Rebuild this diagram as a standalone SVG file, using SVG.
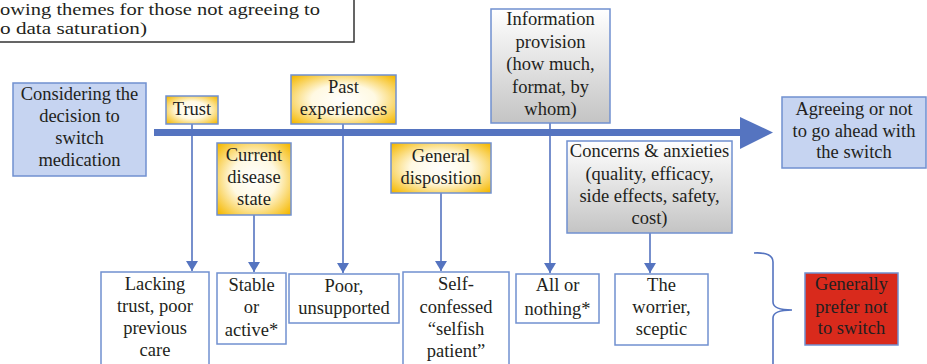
<svg xmlns="http://www.w3.org/2000/svg" width="927" height="364" viewBox="0 0 927 364" font-family="'Liberation Serif', 'Times New Roman', 'DejaVu Serif', serif">
<defs>
<radialGradient id="gold" cx="50%" cy="50%" r="68%">
<stop offset="0" stop-color="#ffffff"/>
<stop offset="0.45" stop-color="#fff9e2"/>
<stop offset="1" stop-color="#f5b800"/>
</radialGradient>
<linearGradient id="grey" x1="0" y1="0" x2="0" y2="1">
<stop offset="0" stop-color="#ffffff"/>
<stop offset="1" stop-color="#c4c4c4"/>
</linearGradient>
<marker id="ah" viewBox="0 0 10 12" refX="10" refY="6" markerWidth="10" markerHeight="12" markerUnits="userSpaceOnUse" orient="auto">
<path d="M0,0 L10,6 L0,12 z" fill="#5574c0"/>
</marker>
</defs>
<style>
text{font-family:'Liberation Serif','Times New Roman','DejaVu Serif',serif;font-size:18.5px;fill:#231f20;text-anchor:middle}
.note{text-anchor:start;font-size:16.5px}
.blue{fill:#c6d4f1;stroke:#7090d0;stroke-width:1.5}
.gold{fill:url(#gold);stroke:#7090d0;stroke-width:1.5}
.grey{fill:url(#grey);stroke:#7090d0;stroke-width:1.5}
.plain{fill:#ffffff;stroke:#7090d0;stroke-width:1.5}
.red{fill:#d92a1c;stroke:#7090d0;stroke-width:1.5}
.conn{stroke:#5574c0;stroke-width:1.6;fill:none}
</style>

<g id="note">
<rect x="-10" y="-10" width="364" height="52" fill="#ffffff" stroke="#333333" stroke-width="1.5"/>
<text class="note" x="0" y="15" textLength="320" lengthAdjust="spacingAndGlyphs">owing themes for those not agreeing to</text>
<text class="note" x="0" y="34" textLength="147" lengthAdjust="spacingAndGlyphs">o data saturation)</text>
</g>

<g id="connectors">
<rect x="154" y="129" width="587" height="7" fill="#5574c0"/>
<polygon points="740,117 773,132.5 740,149" fill="#5574c0"/>
<line class="conn" x1="192" y1="124" x2="192" y2="271" marker-end="url(#ah)"/>
<line class="conn" x1="254" y1="215" x2="254" y2="272" marker-end="url(#ah)"/>
<line class="conn" x1="343" y1="124" x2="343" y2="273" marker-end="url(#ah)"/>
<line class="conn" x1="441" y1="193" x2="441" y2="271" marker-end="url(#ah)"/>
<line class="conn" x1="550" y1="123" x2="550" y2="273" marker-end="url(#ah)"/>
<line class="conn" x1="650" y1="233" x2="650" y2="273" marker-end="url(#ah)"/>
<path class="conn" d="M754,253 Q773,252 773,262 L773,302 Q773,310 792,310 Q773,310 773,318 L773,370"/>
</g>

<g id="start">
<rect class="blue" x="13" y="83" width="133" height="93"/>
<text x="79.5" y="100">Considering the</text>
<text x="79.5" y="122">decision to</text>
<text x="79.5" y="144">switch</text>
<text x="79.5" y="166">medication</text>
</g>

<g id="trust">
<rect class="gold" x="166" y="96" width="52" height="28"/>
<text x="192" y="115">Trust</text>
</g>

<g id="current">
<rect class="gold" x="217" y="143" width="74" height="72"/>
<text x="254" y="161">Current</text>
<text x="254" y="183">disease</text>
<text x="254" y="205">state</text>
</g>

<g id="past">
<rect class="gold" x="291" y="75" width="105" height="49"/>
<text x="343.5" y="93">Past</text>
<text x="343.5" y="115">experiences</text>
</g>

<g id="general">
<rect class="gold" x="391" y="143" width="100" height="50"/>
<text x="441" y="162">General</text>
<text x="441" y="184">disposition</text>
</g>

<g id="info">
<rect class="grey" x="491" y="9" width="119" height="114"/>
<text x="550.5" y="25">Information</text>
<text x="550.5" y="48">provision</text>
<text x="550.5" y="70">(how much,</text>
<text x="550.5" y="93">format, by</text>
<text x="550.5" y="115">whom)</text>
</g>

<g id="concerns">
<rect class="grey" x="567" y="141" width="165" height="92"/>
<text x="649.5" y="157">Concerns &amp; anxieties</text>
<text x="649.5" y="180">(quality, efficacy,</text>
<text x="649.5" y="202">side effects, safety,</text>
<text x="649.5" y="224">cost)</text>
</g>

<g id="outcome">
<rect class="blue" x="782" y="97" width="144" height="71"/>
<text x="854" y="115">Agreeing or not</text>
<text x="854" y="137">to go ahead with</text>
<text x="854" y="158">the switch</text>
</g>

<g id="lacking">
<rect class="plain" x="101" y="272" width="108" height="100"/>
<text x="155" y="290">Lacking</text>
<text x="155" y="312">trust, poor</text>
<text x="155" y="334">previous</text>
<text x="155" y="356">care</text>
</g>

<g id="stable">
<rect class="plain" x="217" y="273" width="69" height="71"/>
<text x="251.5" y="291">Stable</text>
<text x="251.5" y="313">or</text>
<text x="251.5" y="336">active*</text>
</g>

<g id="poor">
<rect class="plain" x="289" y="274" width="110" height="49"/>
<text x="344" y="292">Poor,</text>
<text x="344" y="314">unsupported</text>
</g>

<g id="selfish">
<rect class="plain" x="403" y="272" width="106" height="100"/>
<text x="456" y="290">Self-</text>
<text x="456" y="313">confessed</text>
<text x="456" y="335">“selfish</text>
<text x="456" y="357">patient”</text>
</g>

<g id="allornothing">
<rect class="plain" x="516" y="274" width="83" height="49"/>
<text x="557.5" y="291">All or</text>
<text x="557.5" y="315">nothing*</text>
</g>

<g id="worrier">
<rect class="plain" x="615" y="274" width="93" height="71"/>
<text x="661.5" y="291">The</text>
<text x="661.5" y="313">worrier,</text>
<text x="661.5" y="335">sceptic</text>
</g>

<g id="prefer">
<rect class="red" x="805" y="273" width="93" height="72"/>
<text x="851.5" y="290">Generally</text>
<text x="851.5" y="313">prefer not</text>
<text x="851.5" y="334">to switch</text>
</g>
</svg>
